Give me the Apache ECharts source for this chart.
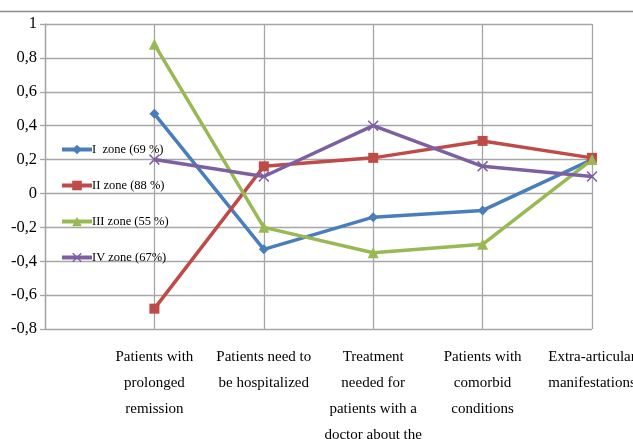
<!DOCTYPE html>
<html>
<head>
<meta charset="utf-8">
<script src="https://cdn.jsdelivr.net/npm/echarts@6/dist/echarts.min.js"></script>
<style>
  html, body { margin: 0; padding: 0; background: #ffffff; }
  #chart { width: 633px; height: 439px; }
</style>
</head>
<body>
<div id="chart"></div>
<script>
// Categories (first slot is left empty so each point sits on a gridline)
const categories = [
  '',
  'Patients with\nprolonged\nremission',
  'Patients need to\nbe hospitalized',
  'Treatment\nneeded for\npatients with a\ndoctor about the',
  'Patients with\ncomorbid\nconditions',
  'Extra-articular\nmanifestations'
];

const seriesNames = ['I  zone (69 %)', 'II zone (88 %)', 'III zone (55 %)', 'IV zone (67%)'];

const zone1 = [null, 0.47, -0.33, -0.14, -0.10, 0.20];
const zone2 = [null, -0.68, 0.16, 0.21, 0.31, 0.21];
const zone3 = [null, 0.88, -0.20, -0.35, -0.30, 0.20];
const zone4 = [null, 0.20, 0.10, 0.40, 0.16, 0.10];

const colors = ['#4a7ebb', '#be4b48', '#98b954', '#7d60a0'];
const crossSymbol = 'path://M0,1L1,0L5,4L9,0L10,1L6,5L10,9L9,10L5,6L1,10L0,9L4,5Z';

const serif = '"Liberation Serif", "DejaVu Serif", serif';

function yLabel(v) {
  if (Math.abs(v) < 1e-9) return '0';
  if (Math.abs(v - Math.round(v)) < 1e-9) return String(Math.round(v));
  return v.toFixed(1).replace('.', ',');
}

function makeSeries(name, data, color, symbol, size) {
  return {
    name: name,
    type: 'line',
    data: data,
    connectNulls: false,
    symbol: symbol,
    symbolSize: size,
    showAllSymbol: true,
    lineStyle: { color: color, width: 3.5 },
    itemStyle: { color: color },
    emphasis: { disabled: true },
    animation: false
  };
}

const chart = echarts.init(document.getElementById('chart'), null, { renderer: 'canvas' });
chart.setOption({
  backgroundColor: '#ffffff',
  animation: false,
  color: colors,
  graphic: [{
    type: 'line',
    shape: { x1: 0, y1: 11.5, x2: 633, y2: 11.5 },
    style: { stroke: '#8c8c8c', lineWidth: 1.5 }
  }],
  legend: {
    orient: 'vertical',
    left: 55,
    top: 138,
    itemWidth: 30,
    itemHeight: 12,
    itemGap: 23,
    data: seriesNames,
    lineStyle: { width: 4 },
    textStyle: { fontFamily: serif, fontSize: 12.5, color: '#000000', padding: [0, 0, 0, -5] },
    backgroundColor: 'transparent'
  },
  grid: {
    left: 45, right: 41, top: 24, bottom: 110,
    containLabel: false,
    outerBoundsMode: 'none'
  },
  xAxis: {
    type: 'category',
    boundaryGap: false,
    data: categories,
    axisLine: { show: false },
    axisTick: { show: false },
    splitLine: { show: true, lineStyle: { color: '#a6a6a6', width: 1.3 } },
    axisLabel: {
      interval: 0,
      margin: 15,
      fontFamily: serif,
      fontSize: 15,
      lineHeight: 26,
      color: '#000000',
      align: 'center'
    }
  },
  yAxis: {
    type: 'value',
    min: -0.8,
    max: 1,
    interval: 0.2,
    axisLine: { show: true, lineStyle: { color: '#a6a6a6', width: 1.3 } },
    axisTick: { show: true, length: 5, lineStyle: { color: '#a6a6a6', width: 1.3 } },
    splitLine: { show: true, lineStyle: { color: '#a6a6a6', width: 1.3 } },
    axisLabel: {
      formatter: yLabel,
      margin: 8,
      fontFamily: serif,
      fontSize: 16.5,
      color: '#000000'
    }
  },
  series: [
    makeSeries(seriesNames[0], zone1, colors[0], 'diamond', 10),
    makeSeries(seriesNames[1], zone2, colors[1], 'rect', 10),
    makeSeries(seriesNames[2], zone3, colors[2], 'triangle', 11),
    makeSeries(seriesNames[3], zone4, colors[3], crossSymbol, 11)
  ]
});
</script>
</body>
</html>
